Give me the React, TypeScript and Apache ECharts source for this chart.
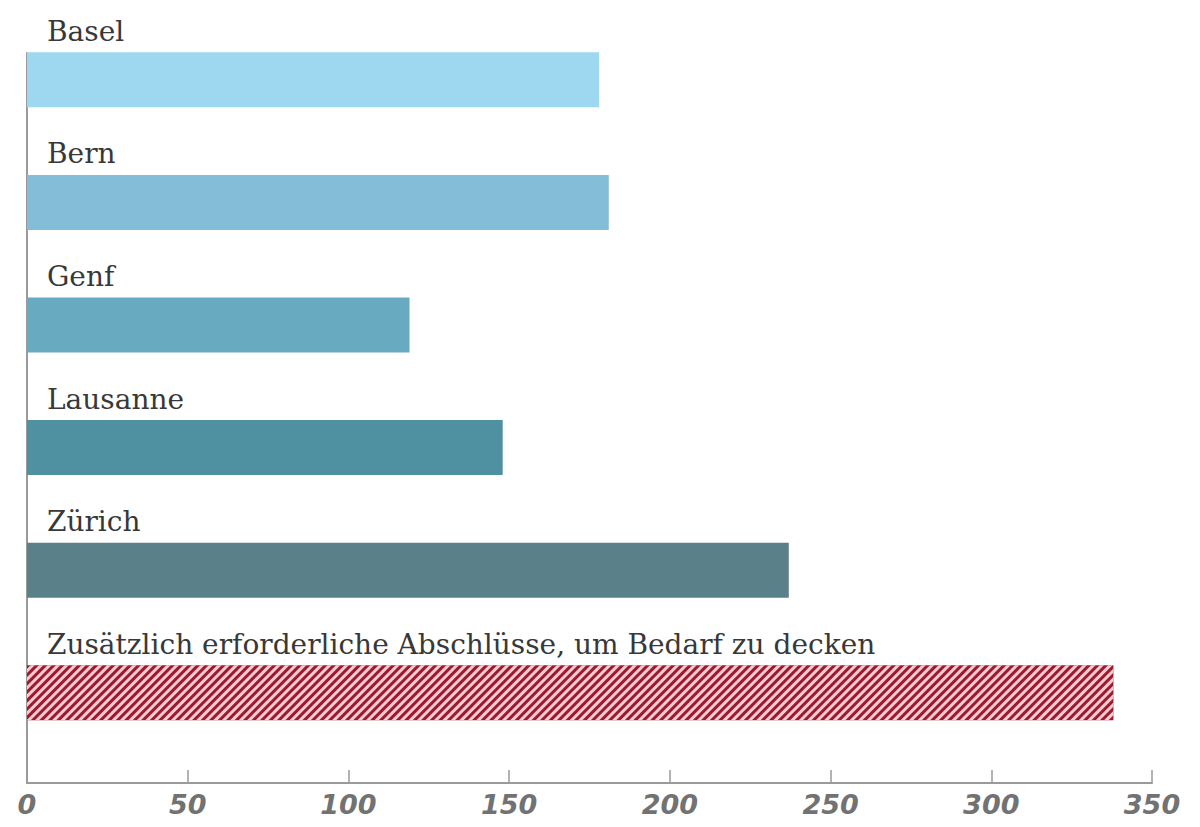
import React, { useEffect, useRef } from "react";
import * as echarts from "echarts";

const categories = [
  "Basel",
  "Bern",
  "Genf",
  "Lausanne",
  "Zürich",
  "Zusätzlich erforderliche Abschlüsse, um Bedarf zu decken",
];
const values = [178, 181, 119, 148, 237, 338];
const barColors = ["#9dd7f0", "#83bdd7", "#68aac0", "#4f91a1", "#5a818a", "#9b1b2e"];
const xTicks = [0, 50, 100, 150, 200, 250, 300, 350];

export default function App() {
  const ref = useRef<HTMLDivElement>(null);
  useEffect(() => {
    if (!ref.current) return;
    const chart = echarts.init(ref.current, null, { renderer: "svg" });
    const data = values.map((v, i) => {
      const item: any = { value: v, itemStyle: { color: barColors[i] } };
      if (i === categories.length - 1) {
        item.itemStyle.decal = {
          symbol: "rect",
          symbolSize: 1,
          color: "rgba(255, 210, 218, 0.95)",
          dashArrayX: [1, 0],
          dashArrayY: [3, 3],
          rotation: -Math.PI / 4,
        };
      }
      return item;
    });
    chart.setOption({
      animation: false,
      backgroundColor: "#ffffff",
      grid: [
        { left: 27, right: 48, top: 18.5, bottom: 73 },
        { left: 27, right: 48, top: 53, bottom: 44 },
      ],
      xAxis: [
        { type: "value", gridIndex: 0, min: 0, max: 350, show: false },
        {
          type: "value",
          gridIndex: 1,
          min: 0,
          max: 350,
          interval: 50,
          axisLine: { show: true, onZero: false, lineStyle: { color: "#9a9a9a", width: 2 } },
          axisTick: { show: true, inside: true, length: 13, lineStyle: { color: "#9a9a9a", width: 1.5 } },
          splitLine: { show: false },
          axisLabel: {
            color: "#727272",
            fontFamily: "DejaVu Sans",
            fontWeight: "bold",
            fontStyle: "italic",
            fontSize: 27,
            margin: 8,
            formatter: (v: number) => (xTicks.includes(v) ? String(v) : ""),
          },
        },
      ],
      yAxis: [
        { type: "category", gridIndex: 0, inverse: true, data: categories, show: false },
        {
          type: "value",
          gridIndex: 1,
          min: 0,
          max: 1,
          axisLine: { show: true, onZero: false, lineStyle: { color: "#9a9a9a", width: 2 } },
          axisTick: { show: false },
          axisLabel: { show: false },
          splitLine: { show: false },
        },
      ],
      series: [
        {
          type: "bar",
          xAxisIndex: 0,
          yAxisIndex: 0,
          barWidth: 55,
          data,
          label: {
            show: true,
            position: [20, -7],
            verticalAlign: "bottom",
            align: "left",
            formatter: "{b}",
            color: "#383838",
            fontFamily: "DejaVu Serif",
            fontSize: 28,
          },
        },
      ],
    });
    return () => chart.dispose();
  }, []);
  return (
    <div
      ref={ref}
      style={{ position: "fixed", left: 0, top: 0, width: 1200, height: 827 }}
    />
  );
}
